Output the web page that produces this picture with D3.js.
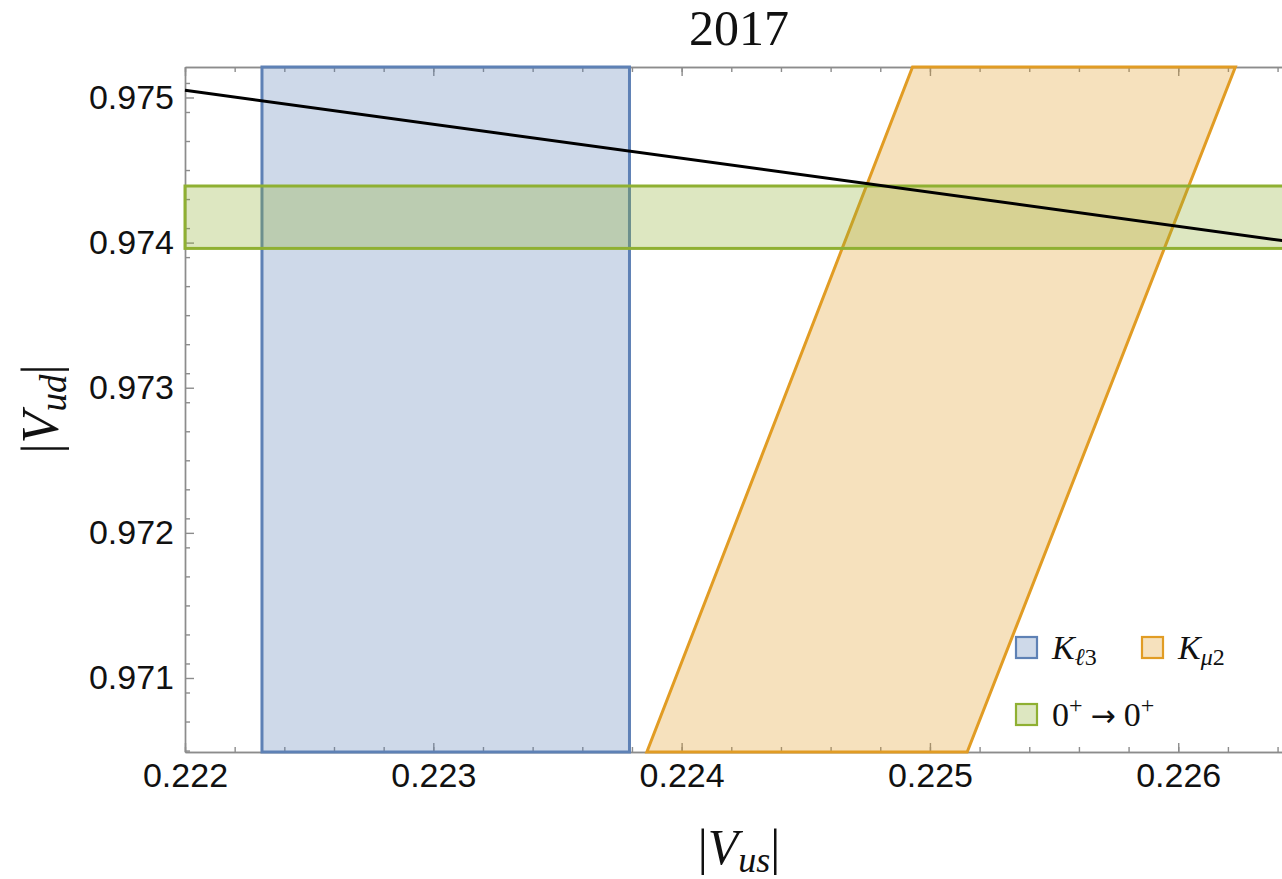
<!DOCTYPE html>
<html>
<head>
<meta charset="utf-8">
<script src="https://cdn.jsdelivr.net/npm/d3@7"></script>
<style>
  body { margin: 0; background: #fff; }
  svg { display: block; }
  .tick text { font-family: "Liberation Sans", Arial, sans-serif; font-size: 34px; fill: #111; }
  .axis path, .axis line { stroke: #8c8c8c; stroke-width: 1.4; }
  .serif { font-family: "Liberation Serif", "DejaVu Serif", serif; fill: #111; }
</style>
</head>
<body>
<div id="chart"></div>
<script>
// Axis ticks
const xTicks = [0.222, 0.223, 0.224, 0.225, 0.226];
const yTicks = [0.971, 0.972, 0.973, 0.974, 0.975];

// |Vus| range from K_l3
const kl3 = [0.22231, 0.22379];
// |Vud| range from superallowed 0+ -> 0+ decays
const superallowed = [0.97396, 0.97439];
// K_mu2 band corners (Vus, Vud)
const kmu2 = [
  [0.22386, 0.97049],
  [0.22515, 0.97049],
  [0.22623, 0.97521],
  [0.22493, 0.97521]
];
// Unitarity line (Vus, Vud)
const unitarity = [
  [0.222, 0.97505],
  [0.2265, 0.973995]
];

const colors = { kl3: "#5e81b5", kmu2: "#e19c24", nuc: "#8fb032" };

const width = 1282, height = 879;
const margin = { left: 185, top: 67, bottom: 752 };

const x = d3.scaleLinear().domain([0.222, 0.2265]).range([margin.left, 1302.4]);
const y = d3.scaleLinear().domain([0.97049, 0.97521]).range([margin.bottom, margin.top]);

const svg = d3.select("#chart")
  .append("svg")
  .attr("width", width)
  .attr("height", height);

// minor tick values every 0.0002
const xMinor = d3.range(0, 23).map(i => +(0.222 + i * 0.0002).toFixed(4));
const yMinor = d3.range(0, 24).map(i => +(0.9705 + i * 0.0002).toFixed(4)).filter(v => v <= 0.97521);

function addAxis(axisFn, transform, ticks, size, labels) {
  const g = svg.append("g").attr("class", "axis").attr("transform", transform);
  const ax = axisFn
    .tickValues(ticks)
    .tickSizeInner(-size)
    .tickSizeOuter(0)
    .tickPadding(11);
  if (!labels) ax.tickFormat("");
  else ax.tickFormat(d3.format(".3f"));
  g.call(ax);
  return g;
}

// frame with minor and major ticks
addAxis(d3.axisBottom(x), `translate(0,${margin.bottom})`, xMinor, 5, false);
addAxis(d3.axisBottom(x), `translate(0,${margin.bottom})`, xTicks, 9, true);
addAxis(d3.axisTop(x), `translate(0,${margin.top})`, xMinor, 5, false);
addAxis(d3.axisTop(x), `translate(0,${margin.top})`, xTicks, 9, false);
addAxis(d3.axisLeft(y), `translate(${margin.left},0)`, yMinor, 5, false);
addAxis(d3.axisLeft(y), `translate(${margin.left},0)`, yTicks, 9, true);
addAxis(d3.axisRight(y), `translate(1302.4,0)`, yMinor, 5, false);

const regions = svg.append("g");

// K_l3 vertical band
regions.append("rect")
  .attr("x", x(kl3[0]))
  .attr("width", x(kl3[1]) - x(kl3[0]))
  .attr("y", y(y.domain()[1]))
  .attr("height", y(y.domain()[0]) - y(y.domain()[1]))
  .attr("fill", colors.kl3).attr("fill-opacity", 0.3)
  .attr("stroke", colors.kl3).attr("stroke-width", 3);

// K_mu2 slanted band
regions.append("path")
  .attr("d", d3.line().x(d => x(d[0])).y(d => y(d[1]))(kmu2) + "Z")
  .attr("fill", colors.kmu2).attr("fill-opacity", 0.3)
  .attr("stroke", colors.kmu2).attr("stroke-width", 3);

// 0+ -> 0+ horizontal band
regions.append("rect")
  .attr("x", x(x.domain()[0]))
  .attr("width", x(x.domain()[1]) - x(x.domain()[0]))
  .attr("y", y(superallowed[1]))
  .attr("height", y(superallowed[0]) - y(superallowed[1]))
  .attr("fill", colors.nuc).attr("fill-opacity", 0.3)
  .attr("stroke", colors.nuc).attr("stroke-width", 3);

// unitarity line
svg.append("path")
  .attr("d", d3.line().x(d => x(d[0])).y(d => y(d[1]))(unitarity))
  .attr("fill", "none")
  .attr("stroke", "#000")
  .attr("stroke-width", 3);

// title
svg.append("text")
  .attr("class", "serif")
  .attr("x", 739).attr("y", 45)
  .attr("text-anchor", "middle")
  .attr("font-size", 50)
  .text("2017");

// axis labels
const xl = svg.append("text")
  .attr("class", "serif")
  .attr("x", 739).attr("y", 864)
  .attr("text-anchor", "middle")
  .attr("font-size", 50);
xl.append("tspan").text("|");
xl.append("tspan").attr("font-style", "italic").text("V");
xl.append("tspan").attr("font-style", "italic").attr("font-size", 36).attr("dy", 8).text("us");
xl.append("tspan").attr("dy", -8).text("|");

const yl = svg.append("text")
  .attr("class", "serif")
  .attr("transform", "translate(58,409) rotate(-90)")
  .attr("text-anchor", "middle")
  .attr("font-size", 52);
yl.append("tspan").text("|");
yl.append("tspan").attr("font-style", "italic").text("V");
yl.append("tspan").attr("font-style", "italic").attr("font-size", 37).attr("dy", 8).text("ud");
yl.append("tspan").attr("dy", -8).text("|");

// legend
const legendItems = [
  { key: "kl3", x: 1016, y: 637 },
  { key: "kmu2", x: 1142, y: 637 },
  { key: "nuc", x: 1016, y: 704 }
];
const legend = svg.append("g");
legendItems.forEach(d => {
  legend.append("rect")
    .attr("x", d.x).attr("y", d.y)
    .attr("width", 21).attr("height", 21)
    .attr("fill", colors[d.key]).attr("fill-opacity", 0.3)
    .attr("stroke", colors[d.key]).attr("stroke-width", 2.2);
});

function legendText(lx, ly) {
  return legend.append("text").attr("class", "serif")
    .attr("x", lx).attr("y", ly).attr("font-size", 34);
}
const t1 = legendText(1052, 659);
t1.append("tspan").attr("font-style", "italic").text("K");
t1.append("tspan").attr("font-size", 24).attr("dy", 6).attr("font-style", "italic").text("ℓ");
t1.append("tspan").attr("font-size", 24).text("3");

const t2 = legendText(1178, 659);
t2.append("tspan").attr("font-style", "italic").text("K");
t2.append("tspan").attr("font-size", 24).attr("dy", 6).attr("font-style", "italic").text("μ");
t2.append("tspan").attr("font-size", 24).text("2");

const t3 = legendText(1052, 726);
t3.append("tspan").text("0");
t3.append("tspan").attr("font-size", 24).attr("dy", -13).text("+");
t3.append("tspan").attr("dy", 13).attr("dx", 8).attr("font-family", "DejaVu Sans").attr("font-size", 30).text("→");
t3.append("tspan").attr("dx", 8).text("0");
t3.append("tspan").attr("font-size", 24).attr("dy", -13).text("+");
</script>
</body>
</html>
